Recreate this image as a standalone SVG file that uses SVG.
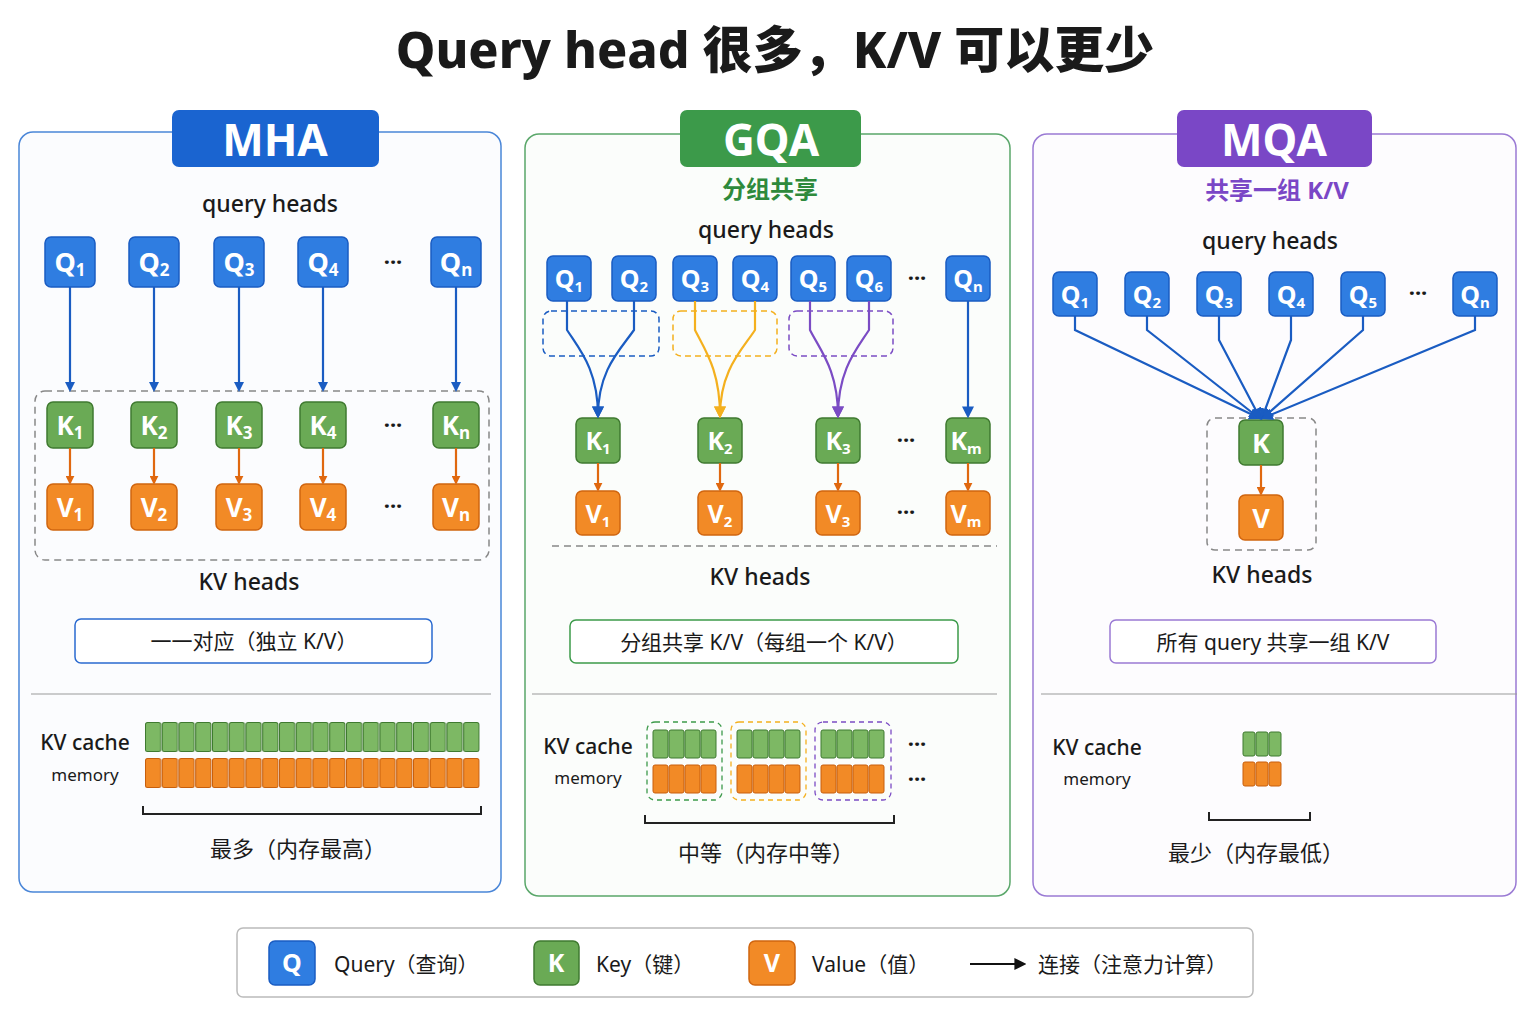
<svg xmlns="http://www.w3.org/2000/svg" width="1536" height="1024" viewBox="0 0 1536 1024">
<defs>
<style>
text{font-family:"Noto Sans","Noto Sans CJK SC",sans-serif;fill:#1a1a1a}
.q{fill:#2f7de1;stroke:#1a5cc2;stroke-width:1.5}
.k{fill:#6aaa55;stroke:#3f7a30;stroke-width:1.5}
.v{fill:#f28a26;stroke:#d0650f;stroke-width:1.5}
.nt{fill:#fff;font-weight:700;text-anchor:middle}
.lbl{font-size:23px;text-anchor:middle;font-weight:500}
.dots{font-size:22px;text-anchor:middle;font-weight:700}
.ab{stroke:#1a5cc2;stroke-width:2.2;fill:none}
.ao{stroke:#e0680f;stroke-width:2.2;fill:none}
.cg{fill:#7db864;stroke:#3f7a30;stroke-width:1}
.co{fill:#f28a26;stroke:#c85f0c;stroke-width:1}
.dash{fill:none;stroke:#888;stroke-width:1.5;stroke-dasharray:7 5}
</style>
<marker id="mb" markerWidth="10" markerHeight="10" refX="8" refY="5" orient="auto" markerUnits="userSpaceOnUse" viewBox="0 0 10 10"><path d="M0,0 L10,5 L0,10z" fill="#1a5cc2"/></marker>
<marker id="mo" markerWidth="9" markerHeight="9" refX="8" refY="5" orient="auto" markerUnits="userSpaceOnUse" viewBox="0 0 10 10"><path d="M0,0 L10,5 L0,10z" fill="#e0680f"/></marker>
<marker id="my" markerWidth="12" markerHeight="12" refX="8" refY="5" orient="auto" markerUnits="userSpaceOnUse" viewBox="0 0 10 10"><path d="M0,0 L10,5 L0,10z" fill="#f4b01e"/></marker>
<marker id="mp" markerWidth="12" markerHeight="12" refX="8" refY="5" orient="auto" markerUnits="userSpaceOnUse" viewBox="0 0 10 10"><path d="M0,0 L10,5 L0,10z" fill="#7b4cc4"/></marker>
<marker id="mb2" markerWidth="12" markerHeight="12" refX="8" refY="5" orient="auto" markerUnits="userSpaceOnUse" viewBox="0 0 10 10"><path d="M0,0 L10,5 L0,10z" fill="#1a5cc2"/></marker>
<marker id="mk" markerWidth="12" markerHeight="12" refX="8" refY="5" orient="auto" markerUnits="userSpaceOnUse" viewBox="0 0 10 10"><path d="M0,0 L10,5 L0,10z" fill="#111"/></marker>
<pattern id="pg" patternUnits="userSpaceOnUse" x="145" y="722" width="16.75" height="30"><rect x="0.5" y="0.5" width="15.2" height="29" rx="2" class="cg"/></pattern>
<pattern id="po" patternUnits="userSpaceOnUse" x="145" y="758" width="16.75" height="30"><rect x="0.5" y="0.5" width="15.2" height="29" rx="2" class="co"/></pattern>
</defs>
<rect width="1536" height="1024" fill="#fff"/>
<text x="775" y="68" font-size="50" font-weight="800" text-anchor="middle">Query head 很多，K/V 可以更少</text>

<!-- MHA panel -->
<g id="mha">
<rect x="19" y="132" width="482" height="760" rx="14" fill="#fbfcfe" stroke="#4a86d8" stroke-width="1.5"/>
<rect x="172" y="110" width="207" height="57" rx="7" fill="#1a64d0"/>
<text x="275" y="156" class="nt" font-size="44">MHA</text>
<text x="270" y="212" class="lbl">query heads</text>
<rect x="35" y="391" width="454" height="169" rx="10" class="dash"/>
<text x="393" y="270" class="dots">···</text><text x="393" y="433" class="dots">···</text><text x="393" y="514" class="dots">···</text>
<text x="249" y="590" class="lbl">KV heads</text>
<rect x="75" y="619" width="357" height="44" rx="6" fill="#fff" stroke="#2a6ad0" stroke-width="1.5"/>
<text x="254" y="649" font-size="21" text-anchor="middle">一一对应（独立  K/V）</text>
<line x1="31" y1="694" x2="491" y2="694" stroke="#999" stroke-width="1.2"/>
<text x="85" y="750" font-size="21" text-anchor="middle" font-weight="500">KV cache</text>
<text x="85" y="781" font-size="17" text-anchor="middle" fill="#333">memory</text>
<rect x="145" y="722" width="335" height="30" fill="url(#pg)"/>
<rect x="145" y="758" width="335" height="30" fill="url(#po)"/>
<path d="M143 806 v8 h338 v-8" fill="none" stroke="#222" stroke-width="2"/>
<text x="298" y="857" font-size="22" text-anchor="middle">最多（内存最高）</text>
</g>
<g id="mha-nodes">
<g id="mq1"><rect x="45" y="237" width="50" height="50" rx="6" class="q"/><text x="70" y="272" class="nt" font-size="27">Q<tspan font-size="17" dy="4">1</tspan></text></g>
<g id="mq2"><rect x="129" y="237" width="50" height="50" rx="6" class="q"/><text x="154" y="272" class="nt" font-size="27">Q<tspan font-size="17" dy="4">2</tspan></text></g>
<g id="mq3"><rect x="214" y="237" width="50" height="50" rx="6" class="q"/><text x="239" y="272" class="nt" font-size="27">Q<tspan font-size="17" dy="4">3</tspan></text></g>
<g id="mq4"><rect x="298" y="237" width="50" height="50" rx="6" class="q"/><text x="323" y="272" class="nt" font-size="27">Q<tspan font-size="17" dy="4">4</tspan></text></g>
<g id="mqn"><rect x="431" y="237" width="50" height="50" rx="6" class="q"/><text x="456" y="272" class="nt" font-size="27">Q<tspan font-size="17" dy="4">n</tspan></text></g>
<g id="mk1"><rect x="47" y="402" width="46" height="46" rx="6" class="k"/><text x="70" y="435" class="nt" font-size="26">K<tspan font-size="17" dy="4">1</tspan></text></g>
<g id="mk2"><rect x="131" y="402" width="46" height="46" rx="6" class="k"/><text x="154" y="435" class="nt" font-size="26">K<tspan font-size="17" dy="4">2</tspan></text></g>
<g id="mk3"><rect x="216" y="402" width="46" height="46" rx="6" class="k"/><text x="239" y="435" class="nt" font-size="26">K<tspan font-size="17" dy="4">3</tspan></text></g>
<g id="mk4"><rect x="300" y="402" width="46" height="46" rx="6" class="k"/><text x="323" y="435" class="nt" font-size="26">K<tspan font-size="17" dy="4">4</tspan></text></g>
<g id="mkn"><rect x="433" y="402" width="46" height="46" rx="6" class="k"/><text x="456" y="435" class="nt" font-size="26">K<tspan font-size="17" dy="4">n</tspan></text></g>
<g id="mv1"><rect x="47" y="484" width="46" height="46" rx="6" class="v"/><text x="70" y="517" class="nt" font-size="26">V<tspan font-size="17" dy="4">1</tspan></text></g>
<g id="mv2"><rect x="131" y="484" width="46" height="46" rx="6" class="v"/><text x="154" y="517" class="nt" font-size="26">V<tspan font-size="17" dy="4">2</tspan></text></g>
<g id="mv3"><rect x="216" y="484" width="46" height="46" rx="6" class="v"/><text x="239" y="517" class="nt" font-size="26">V<tspan font-size="17" dy="4">3</tspan></text></g>
<g id="mv4"><rect x="300" y="484" width="46" height="46" rx="6" class="v"/><text x="323" y="517" class="nt" font-size="26">V<tspan font-size="17" dy="4">4</tspan></text></g>
<g id="mvn"><rect x="433" y="484" width="46" height="46" rx="6" class="v"/><text x="456" y="517" class="nt" font-size="26">V<tspan font-size="17" dy="4">n</tspan></text></g>
</g>

<!-- GQA panel -->
<g id="gqa">
<rect x="525" y="134" width="485" height="762" rx="14" fill="#fbfdfb" stroke="#5aa76a" stroke-width="1.5"/>
<rect x="680" y="110" width="181" height="57" rx="7" fill="#3c9a4a"/>
<text x="771" y="156" class="nt" font-size="44">GQA</text>
<text x="770" y="198" font-size="24" font-weight="700" text-anchor="middle" fill="#2e8a3c" style="fill:#2e8a3c">分组共享</text>
<text x="766" y="238" class="lbl">query heads</text>
<rect x="543" y="311" width="116" height="45" rx="8" fill="none" stroke="#1a5cc2" stroke-width="1.5" stroke-dasharray="6 4"/>
<rect x="673" y="311" width="104" height="45" rx="8" fill="none" stroke="#f4b01e" stroke-width="1.5" stroke-dasharray="6 4"/>
<rect x="789" y="311" width="104" height="45" rx="8" fill="none" stroke="#7b4cc4" stroke-width="1.5" stroke-dasharray="6 4"/>
<text x="917" y="286" class="dots">···</text><text x="906" y="448" class="dots">···</text><text x="906" y="520" class="dots">···</text>
<path d="M552 546 H997" class="dash"/>
<text x="760" y="585" class="lbl">KV heads</text>
<rect x="570" y="620" width="388" height="43" rx="6" fill="#fff" stroke="#3c9a4a" stroke-width="1.5"/>
<text x="764" y="650" font-size="21" text-anchor="middle">分组共享  K/V（每组一个 K/V）</text>
<line x1="532" y1="694" x2="997" y2="694" stroke="#999" stroke-width="1.2"/>
<text x="588" y="754" font-size="21" text-anchor="middle" font-weight="500">KV cache</text>
<text x="588" y="784" font-size="17" text-anchor="middle" fill="#333">memory</text>
<rect x="647" y="722" width="75" height="78" rx="8" fill="none" stroke="#3c9a4a" stroke-width="1.3" stroke-dasharray="5 4"/>
<rect x="731" y="722" width="75" height="78" rx="8" fill="none" stroke="#f4b01e" stroke-width="1.3" stroke-dasharray="5 4"/>
<rect x="815" y="722" width="76" height="78" rx="8" fill="none" stroke="#7b4cc4" stroke-width="1.3" stroke-dasharray="5 4"/>
<g>
<rect x="653" y="730" width="15" height="28" rx="2" class="cg"/><rect x="669" y="730" width="15" height="28" rx="2" class="cg"/><rect x="685" y="730" width="15" height="28" rx="2" class="cg"/><rect x="701" y="730" width="15" height="28" rx="2" class="cg"/>
<rect x="737" y="730" width="15" height="28" rx="2" class="cg"/><rect x="753" y="730" width="15" height="28" rx="2" class="cg"/><rect x="769" y="730" width="15" height="28" rx="2" class="cg"/><rect x="785" y="730" width="15" height="28" rx="2" class="cg"/>
<rect x="821" y="730" width="15" height="28" rx="2" class="cg"/><rect x="837" y="730" width="15" height="28" rx="2" class="cg"/><rect x="853" y="730" width="15" height="28" rx="2" class="cg"/><rect x="869" y="730" width="15" height="28" rx="2" class="cg"/>
<rect x="653" y="765" width="15" height="28" rx="2" class="co"/><rect x="669" y="765" width="15" height="28" rx="2" class="co"/><rect x="685" y="765" width="15" height="28" rx="2" class="co"/><rect x="701" y="765" width="15" height="28" rx="2" class="co"/>
<rect x="737" y="765" width="15" height="28" rx="2" class="co"/><rect x="753" y="765" width="15" height="28" rx="2" class="co"/><rect x="769" y="765" width="15" height="28" rx="2" class="co"/><rect x="785" y="765" width="15" height="28" rx="2" class="co"/>
<rect x="821" y="765" width="15" height="28" rx="2" class="co"/><rect x="837" y="765" width="15" height="28" rx="2" class="co"/><rect x="853" y="765" width="15" height="28" rx="2" class="co"/><rect x="869" y="765" width="15" height="28" rx="2" class="co"/>
</g>
<text x="917" y="752" class="dots" font-size="18">···</text><text x="917" y="787" class="dots" font-size="18">···</text>
<path d="M645 815 v8 h249 v-8" fill="none" stroke="#222" stroke-width="2"/>
<text x="766" y="861" font-size="22" text-anchor="middle">中等（内存中等）</text>
</g>
<g id="gqa-nodes">
<g id="gq1"><rect x="547" y="256" width="44" height="45" rx="6" class="q"/><text x="569" y="288" class="nt" font-size="25">Q<tspan font-size="15" dy="4">1</tspan></text></g>
<g id="gq2"><rect x="612" y="256" width="44" height="45" rx="6" class="q"/><text x="634" y="288" class="nt" font-size="25">Q<tspan font-size="15" dy="4">2</tspan></text></g>
<g id="gq3"><rect x="673" y="256" width="44" height="45" rx="6" class="q"/><text x="695" y="288" class="nt" font-size="25">Q<tspan font-size="15" dy="4">3</tspan></text></g>
<g id="gq4"><rect x="733" y="256" width="44" height="45" rx="6" class="q"/><text x="755" y="288" class="nt" font-size="25">Q<tspan font-size="15" dy="4">4</tspan></text></g>
<g id="gq5"><rect x="791" y="256" width="44" height="45" rx="6" class="q"/><text x="813" y="288" class="nt" font-size="25">Q<tspan font-size="15" dy="4">5</tspan></text></g>
<g id="gq6"><rect x="847" y="256" width="44" height="45" rx="6" class="q"/><text x="869" y="288" class="nt" font-size="25">Q<tspan font-size="15" dy="4">6</tspan></text></g>
<g id="gqn"><rect x="946" y="256" width="44" height="45" rx="6" class="q"/><text x="968" y="288" class="nt" font-size="25">Q<tspan font-size="15" dy="4">n</tspan></text></g>
<g id="gk1"><rect x="576" y="418" width="44" height="45" rx="6" class="k"/><text x="598" y="450" class="nt" font-size="25">K<tspan font-size="15" dy="4">1</tspan></text></g>
<g id="gk2"><rect x="698" y="418" width="44" height="45" rx="6" class="k"/><text x="720" y="450" class="nt" font-size="25">K<tspan font-size="15" dy="4">2</tspan></text></g>
<g id="gk3"><rect x="816" y="418" width="44" height="45" rx="6" class="k"/><text x="838" y="450" class="nt" font-size="25">K<tspan font-size="15" dy="4">3</tspan></text></g>
<g id="gkm"><rect x="946" y="418" width="44" height="45" rx="6" class="k"/><text x="966" y="450" class="nt" font-size="25">K<tspan font-size="15" dy="4">m</tspan></text></g>
<g id="gv1"><rect x="576" y="491" width="44" height="44" rx="6" class="v"/><text x="598" y="523" class="nt" font-size="25">V<tspan font-size="15" dy="4">1</tspan></text></g>
<g id="gv2"><rect x="698" y="491" width="44" height="44" rx="6" class="v"/><text x="720" y="523" class="nt" font-size="25">V<tspan font-size="15" dy="4">2</tspan></text></g>
<g id="gv3"><rect x="816" y="491" width="44" height="44" rx="6" class="v"/><text x="838" y="523" class="nt" font-size="25">V<tspan font-size="15" dy="4">3</tspan></text></g>
<g id="gvm"><rect x="946" y="491" width="44" height="44" rx="6" class="v"/><text x="966" y="523" class="nt" font-size="25">V<tspan font-size="15" dy="4">m</tspan></text></g>
</g>

<!-- MQA panel -->
<g id="mqa">
<rect x="1033" y="134" width="483" height="762" rx="14" fill="#fdfcfe" stroke="#9a7ad4" stroke-width="1.5"/>
<rect x="1177" y="110" width="195" height="57" rx="7" fill="#7a47c6"/>
<text x="1274" y="156" class="nt" font-size="44">MQA</text>
<text x="1277" y="199" font-size="24" font-weight="700" text-anchor="middle" style="fill:#7a47c6">共享一组 K/V</text>
<text x="1270" y="249" class="lbl">query heads</text>
<text x="1418" y="301" class="dots">···</text>
<rect x="1207" y="418" width="109" height="132" rx="8" class="dash"/>
<text x="1262" y="583" class="lbl">KV heads</text>
<rect x="1110" y="620" width="326" height="43" rx="6" fill="#fff" stroke="#9a7ad4" stroke-width="1.5"/>
<text x="1273" y="650" font-size="21" text-anchor="middle">所有 query 共享一组  K/V</text>
<line x1="1041" y1="694" x2="1517" y2="694" stroke="#999" stroke-width="1.2"/>
<text x="1097" y="755" font-size="21" text-anchor="middle" font-weight="500">KV cache</text>
<text x="1097" y="785" font-size="17" text-anchor="middle" fill="#333">memory</text>
<rect x="1243" y="732" width="12" height="24" rx="2" class="cg"/><rect x="1256" y="732" width="12" height="24" rx="2" class="cg"/><rect x="1269" y="732" width="12" height="24" rx="2" class="cg"/>
<rect x="1243" y="762" width="12" height="24" rx="2" class="co"/><rect x="1256" y="762" width="12" height="24" rx="2" class="co"/><rect x="1269" y="762" width="12" height="24" rx="2" class="co"/>
<path d="M1209 812 v8 h101 v-8" fill="none" stroke="#222" stroke-width="2"/>
<text x="1256" y="861" font-size="22" text-anchor="middle">最少（内存最低）</text>
</g>
<g id="mqa-nodes">
<g id="qq1"><rect x="1053" y="272" width="44" height="44" rx="6" class="q"/><text x="1075" y="304" class="nt" font-size="25">Q<tspan font-size="15" dy="4">1</tspan></text></g>
<g id="qq2"><rect x="1125" y="272" width="44" height="44" rx="6" class="q"/><text x="1147" y="304" class="nt" font-size="25">Q<tspan font-size="15" dy="4">2</tspan></text></g>
<g id="qq3"><rect x="1197" y="272" width="44" height="44" rx="6" class="q"/><text x="1219" y="304" class="nt" font-size="25">Q<tspan font-size="15" dy="4">3</tspan></text></g>
<g id="qq4"><rect x="1269" y="272" width="44" height="44" rx="6" class="q"/><text x="1291" y="304" class="nt" font-size="25">Q<tspan font-size="15" dy="4">4</tspan></text></g>
<g id="qq5"><rect x="1341" y="272" width="44" height="44" rx="6" class="q"/><text x="1363" y="304" class="nt" font-size="25">Q<tspan font-size="15" dy="4">5</tspan></text></g>
<g id="qqn"><rect x="1453" y="272" width="44" height="44" rx="6" class="q"/><text x="1475" y="304" class="nt" font-size="25">Q<tspan font-size="15" dy="4">n</tspan></text></g>
<g id="qk"><rect x="1239" y="420" width="44" height="45" rx="6" class="k"/><text x="1261" y="453" class="nt" font-size="27">K</text></g>
<g id="qv"><rect x="1239" y="495" width="44" height="45" rx="6" class="v"/><text x="1261" y="528" class="nt" font-size="27">V</text></g>
</g>

<!-- connectors -->
<g id="connectors">
<path d="M70 287 V390" class="ab" marker-end="url(#mb)"/>
<path d="M154 287 V390" class="ab" marker-end="url(#mb)"/>
<path d="M239 287 V390" class="ab" marker-end="url(#mb)"/>
<path d="M323 287 V390" class="ab" marker-end="url(#mb)"/>
<path d="M456 287 V390" class="ab" marker-end="url(#mb)"/>
<path d="M70 448 V483" class="ao" marker-end="url(#mo)"/>
<path d="M154 448 V483" class="ao" marker-end="url(#mo)"/>
<path d="M239 448 V483" class="ao" marker-end="url(#mo)"/>
<path d="M323 448 V483" class="ao" marker-end="url(#mo)"/>
<path d="M456 448 V483" class="ao" marker-end="url(#mo)"/>

<path d="M567 301 V330 C580 350 598 370 598 416" class="ab" marker-end="url(#mb2)"/>
<path d="M634 301 V330 C620 350 598 370 598 416" class="ab" marker-end="url(#mb2)"/>
<path d="M695 301 V330 C705 350 720 370 720 416" fill="none" stroke="#f4b01e" stroke-width="2.2" marker-end="url(#my)"/>
<path d="M755 301 V330 C742 350 720 370 720 416" fill="none" stroke="#f4b01e" stroke-width="2.2" marker-end="url(#my)"/>
<path d="M810 301 V330 C820 350 838 370 838 416" fill="none" stroke="#7b4cc4" stroke-width="2.2" marker-end="url(#mp)"/>
<path d="M869 301 V330 C856 350 838 370 838 416" fill="none" stroke="#7b4cc4" stroke-width="2.2" marker-end="url(#mp)"/>
<path d="M968 301 V416" class="ab" marker-end="url(#mb2)"/>
<path d="M598 463 V490" class="ao" marker-end="url(#mo)"/>
<path d="M720 463 V490" class="ao" marker-end="url(#mo)"/>
<path d="M838 463 V490" class="ao" marker-end="url(#mo)"/>
<path d="M968 463 V490" class="ao" marker-end="url(#mo)"/>

<path d="M1075 316 V330 L1259 418" class="ab" marker-end="url(#mb2)"/>
<path d="M1147 316 V330 L1259 418" class="ab" marker-end="url(#mb2)"/>
<path d="M1219 316 V340 L1260 418" class="ab" marker-end="url(#mb2)"/>
<path d="M1291 316 V340 L1262 418" class="ab" marker-end="url(#mb2)"/>
<path d="M1363 316 V330 L1263 418" class="ab" marker-end="url(#mb2)"/>
<path d="M1475 316 V330 L1263 418" class="ab" marker-end="url(#mb2)"/>
<path d="M1261 465 V494" class="ao" marker-end="url(#mo)"/>
</g>

<!-- legend -->
<g id="legend">
<rect x="237" y="928" width="1016" height="69" rx="6" fill="#fff" stroke="#bbb" stroke-width="1.5"/>
<rect x="269" y="941" width="46" height="44" rx="6" class="q"/><text x="292" y="972" class="nt" font-size="25">Q</text>
<text x="334" y="972" font-size="21">Query（查询）</text>
<rect x="534" y="941" width="45" height="44" rx="6" class="k"/><text x="556" y="972" class="nt" font-size="25">K</text>
<text x="596" y="972" font-size="21">Key（键）</text>
<rect x="749" y="941" width="46" height="44" rx="6" class="v"/><text x="772" y="972" class="nt" font-size="25">V</text>
<text x="812" y="972" font-size="21">Value（值）</text>
<path d="M970 964 H1024" stroke="#111" stroke-width="2" fill="none" marker-end="url(#mk)"/>
<text x="1038" y="972" font-size="21">连接（注意力计算）</text>
</g>
</svg>
